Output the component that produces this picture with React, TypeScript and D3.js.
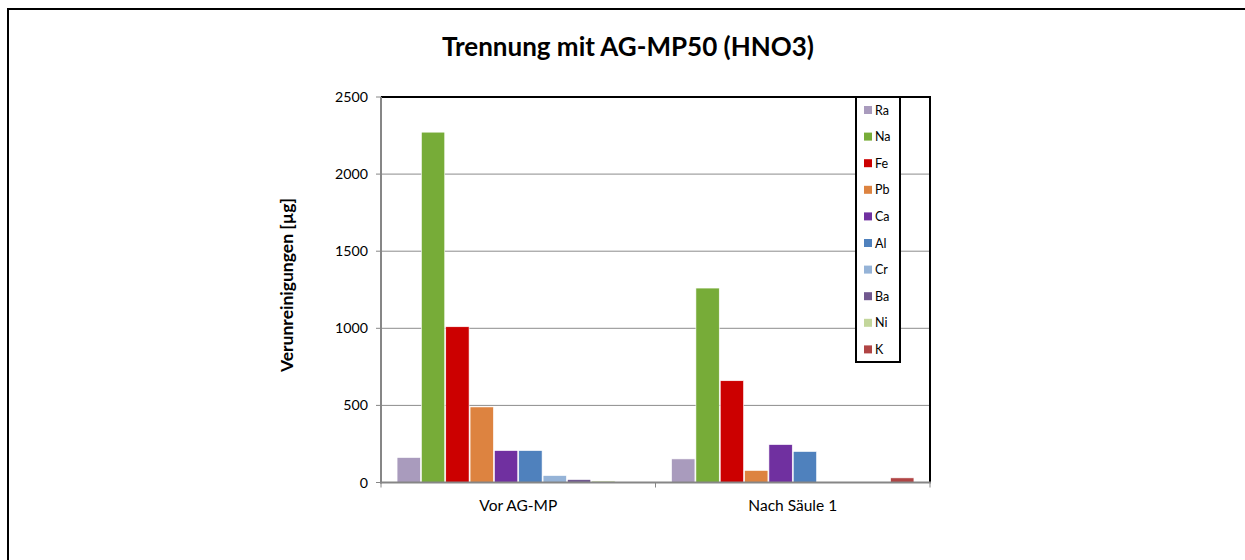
import React from "react";
import * as d3 from "d3";

const categories = ["Vor AG-MP", "Nach Säule 1"];
const series = ["Ra", "Na", "Fe", "Pb", "Ca", "Al", "Cr", "Ba", "Ni", "K"];
const colors = ["#A99BBD", "#77AC38", "#CC0000", "#DD8340", "#7030A0", "#4F81BD", "#95B3D7", "#71588F", "#C3D69B", "#B04444"];
const vorValues = [162, 2272, 1010, 490, 207, 207, 45, 19, 10, 0];
const nachValues = [153, 1261, 660, 78, 246, 201, 0, 0, 0, 30];
const yTicks = [0, 500, 1000, 1500, 2000, 2500];

const W = 1245;
const H = 560;
const L = 381, R = 930, T = 97, B = 482.5;
const FONT = "Lato, 'Open Sans', sans-serif";

export default function App() {
  const y = d3.scaleLinear().domain([0, 2500]).range([B, T]);
  const x0 = d3.scaleBand().domain(categories).range([L, R]).padding(0);
  const x1 = d3.scaleBand().domain(series).range([0, x0.bandwidth()]).paddingInner(0).paddingOuter(0.64);
  const data = [vorValues, nachValues];

  return (
    <svg width={W} height={H} style={{ position: "absolute", left: 0, top: 0, background: "#fff" }} fontFamily={FONT}>
      <rect x={0} y={0} width={W} height={H} fill="#fff" />
      <line x1={8} y1={9} x2={W} y2={9} stroke="#000" strokeWidth={2} />
      <line x1={8} y1={8} x2={8} y2={H} stroke="#000" strokeWidth={2} />

      <text x={628} y={56} textAnchor="middle" fontSize={26} fontWeight="bold" fill="#000">Trennung mit AG-MP50 (HNO3)</text>

      {yTicks.slice(1).map((t) => (
        <line key={"g" + t} x1={L} x2={R} y1={y(t)} y2={y(t)} stroke="#8c8c8c" strokeWidth={1} />
      ))}

      {categories.map((c, ci) => (
        <g key={c} transform={`translate(${x0(c)},0)`}>
          {series.map((s, si) => {
            const v = data[ci][si];
            if (v <= 0) return null;
            return (
              <rect key={s} x={(x1(s) as number) + 0.5} y={y(v)} width={x1.bandwidth() - 1} height={B - y(v)} fill={colors[si]} stroke="#fff" strokeWidth={0.6} />
            );
          })}
        </g>
      ))}

      {/* plot border */}
      <line x1={L} x2={R + 1} y1={T} y2={T} stroke="#000" strokeWidth={2} />
      <line x1={R} x2={R} y1={T} y2={B} stroke="#000" strokeWidth={2} />
      {/* axes */}
      <line x1={L} x2={L} y1={T} y2={B + 1} stroke="#868686" strokeWidth={2} />
      <line x1={L - 1} x2={R + 1} y1={B} y2={B} stroke="#868686" strokeWidth={2} />

      {yTicks.map((t) => (
        <g key={"t" + t}>
          <line x1={L - 5} x2={L} y1={y(t)} y2={y(t)} stroke="#868686" strokeWidth={1} />
          <text x={368} y={y(t) + 5} textAnchor="end" fontSize={14.2} fill="#000">{t}</text>
        </g>
      ))}

      {[L, L + x0.bandwidth(), R].map((xv, i) => (
        <line key={"xt" + i} x1={xv} x2={xv} y1={B} y2={B + 5} stroke="#868686" strokeWidth={1} />
      ))}
      {categories.map((c) => (
        <text key={"xl" + c} x={(x0(c) as number) + x0.bandwidth() / 2} y={511} textAnchor="middle" fontSize={15.5} fill="#000">{c}</text>
      ))}

      <text transform={`translate(293,285) rotate(-90)`} textAnchor="middle" fontSize={17.5} fontWeight="bold" fill="#000">Verunreinigungen [µg]</text>

      {/* legend */}
      <rect x={856} y={97} width={44} height={265} fill="#fff" stroke="#000" strokeWidth={2} />
      {series.map((s, i) => (
        <g key={"lg" + s} transform={`translate(864,${110 + i * 26.6})`}>
          <rect x={0} y={-4} width={8} height={8} fill={colors[i]} />
          <text x={11} y={4.5} fontSize={12.5} fill="#000">{s}</text>
        </g>
      ))}
    </svg>
  );
}
